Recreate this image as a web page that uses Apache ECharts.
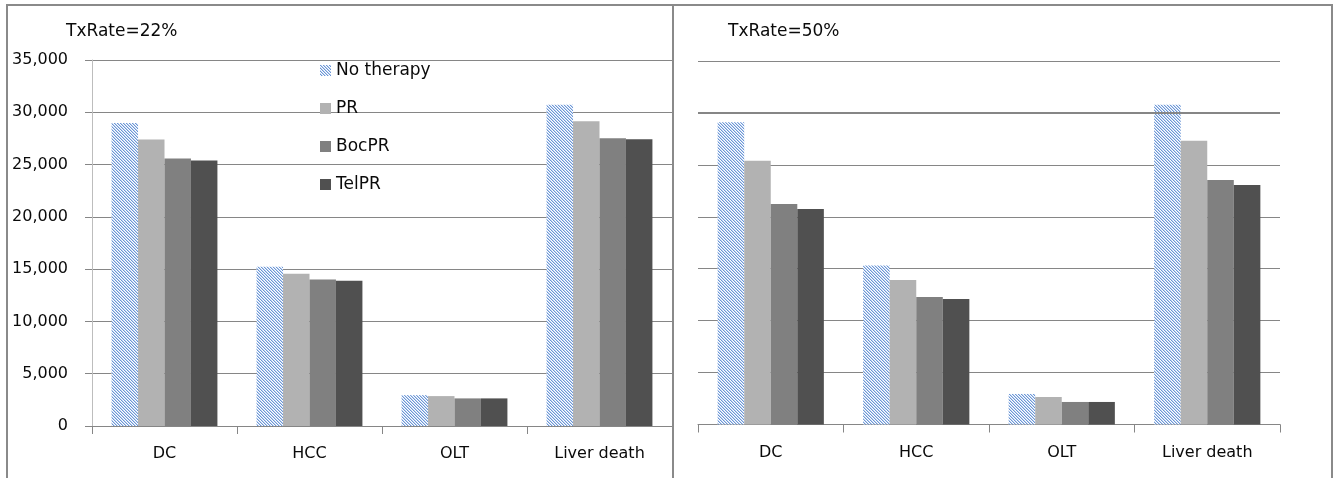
<!DOCTYPE html>
<html>
<head>
<meta charset="utf-8">
<script src="https://cdn.jsdelivr.net/npm/echarts@6/dist/echarts.min.js"></script>
<style>
  html, body { margin: 0; padding: 0; background: #ffffff; }
  #chart { width: 1338px; height: 478px; }
</style>
</head>
<body>
<div id="chart"></div>
<script>
// Outcome categories and therapy series
const categories = ['DC', 'HCC', 'OLT', 'Liver death'];
const seriesNames = ['No therapy', 'PR', 'BocPR', 'TelPR'];
const panelTitles = ['TxRate=22%', 'TxRate=50%'];
const yAxisMax = 35000;
const yAxisStep = 5000;

// Treatment rate 22%
const rate22NoTherapy = [28980, 15240, 2950, 30730];
const rate22PR        = [27400, 14570, 2860, 29140];
const rate22BocPR     = [25590, 14000, 2640, 27520];
const rate22TelPR     = [25400, 13900, 2640, 27430];

// Treatment rate 50%
const rate50NoTherapy = [29110, 15300, 2940, 30780];
const rate50PR        = [25390, 13920, 2650, 27310];
const rate50BocPR     = [21240, 12280, 2170, 23550];
const rate50TelPR     = [20760, 12090, 2170, 23070];

// Diagonal blue hatch used for the "No therapy" bars
function makeHatch() {
  const size = 6;
  const c = document.createElement('canvas');
  c.width = size; c.height = size;
  const g = c.getContext('2d');
  const img = g.createImageData(size, size);
  for (let y = 0; y < size; y++) {
    for (let x = 0; x < size; x++) {
      const i = (y * size + x) * 4;
      const d = (((x - y) % 3) + 3) % 3;
      let col = [255, 255, 255];
      if (d === 0) col = [108, 150, 212];
      else if (d === 1) col = [192, 212, 242];
      img.data[i] = col[0]; img.data[i + 1] = col[1]; img.data[i + 2] = col[2]; img.data[i + 3] = 255;
    }
  }
  g.putImageData(img, 0, 0);
  return c;
}

const hatch = { image: makeHatch(), repeat: 'repeat' };
const seriesColors = [hatch, '#b2b2b2', '#808080', '#505050'];
const FONT = "'DejaVu Sans', sans-serif";
const GRID_COLOR = '#868686';
const TEXT_COLOR = '#0a0a0a';

const panels = [
  [rate22NoTherapy, rate22PR, rate22BocPR, rate22TelPR],
  [rate50NoTherapy, rate50PR, rate50BocPR, rate50TelPR]
];

const fmt = v => v.toLocaleString('en-US');

function xAxisFor(idx) {
  return {
    type: 'category',
    gridIndex: idx,
    data: categories,
    boundaryGap: true,
    axisLine: { show: true, lineStyle: { color: GRID_COLOR, width: 1 } },
    axisTick: { show: true, length: 8, alignWithLabel: false, lineStyle: { color: GRID_COLOR } },
    axisLabel: { margin: 20, fontSize: 16, fontFamily: FONT, color: TEXT_COLOR }
  };
}

function yAxisFor(idx) {
  const showLabels = idx === 0;
  return {
    type: 'value',
    gridIndex: idx,
    min: 0,
    max: yAxisMax,
    interval: yAxisStep,
    axisLine: { show: showLabels, lineStyle: { color: '#bdbdbd', width: 1 } },
    axisTick: { show: showLabels, length: 7, lineStyle: { color: GRID_COLOR } },
    axisLabel: {
      show: showLabels, margin: 24, fontSize: 16, fontFamily: FONT, color: TEXT_COLOR,
      formatter: fmt
    },
    splitLine: { show: true, lineStyle: { color: GRID_COLOR, width: 1 } }
  };
}

const series = [];
panels.forEach((values, p) => {
  values.forEach((data, s) => {
    const item = {
      name: seriesNames[s],
      type: 'bar',
      xAxisIndex: p,
      yAxisIndex: p,
      data: data,
      barGap: '0%',
      barCategoryGap: '27%',
      itemStyle: { color: seriesColors[s] },
      emphasis: { disabled: true },
      animation: false
    };
    if (p === 1 && s === 0) {
      // heavier 30,000 rule in the second panel
      item.markLine = {
        silent: true,
        symbol: 'none',
        label: { show: false },
        lineStyle: { color: GRID_COLOR, width: 2, type: 'solid' },
        data: [{ yAxis: 30000 }]
      };
    }
    series.push(item);
  });
});

const chart = echarts.init(document.getElementById('chart'), null, { renderer: 'canvas' });
chart.setOption({
  backgroundColor: '#ffffff',
  animation: false,
  title: [
    { text: panelTitles[0], left: 61, top: 18,
      textStyle: { fontSize: 17, fontWeight: 'normal', fontFamily: FONT, color: TEXT_COLOR } },
    { text: panelTitles[1], left: 723, top: 18,
      textStyle: { fontSize: 17, fontWeight: 'normal', fontFamily: FONT, color: TEXT_COLOR } }
  ],
  legend: {
    data: seriesNames,
    orient: 'vertical',
    left: 320,
    top: 62,
    padding: 0,
    itemWidth: 11,
    itemHeight: 11,
    itemGap: 21,
    icon: 'rect',
    textStyle: { fontSize: 17, fontFamily: FONT, color: TEXT_COLOR },
    selectedMode: false
  },
  grid: [
    { left: 92, right: 1338 - 672, top: 60, bottom: 478 - 426 },
    { left: 698, right: 1338 - 1280, top: 61, bottom: 478 - 424.5 }
  ],
  xAxis: [xAxisFor(0), xAxisFor(1)],
  yAxis: [yAxisFor(0), yAxisFor(1)],
  series: series,
  graphic: [
    { type: 'rect', silent: true, z: 100,
      shape: { x: 7, y: 5, width: 1325, height: 500 },
      style: { fill: null, stroke: '#8a8a8a', lineWidth: 2 } },
    { type: 'line', silent: true, z: 100,
      shape: { x1: 673, y1: 5, x2: 673, y2: 505 },
      style: { stroke: '#8a8a8a', lineWidth: 2 } }
  ]
});
</script>
</body>
</html>
